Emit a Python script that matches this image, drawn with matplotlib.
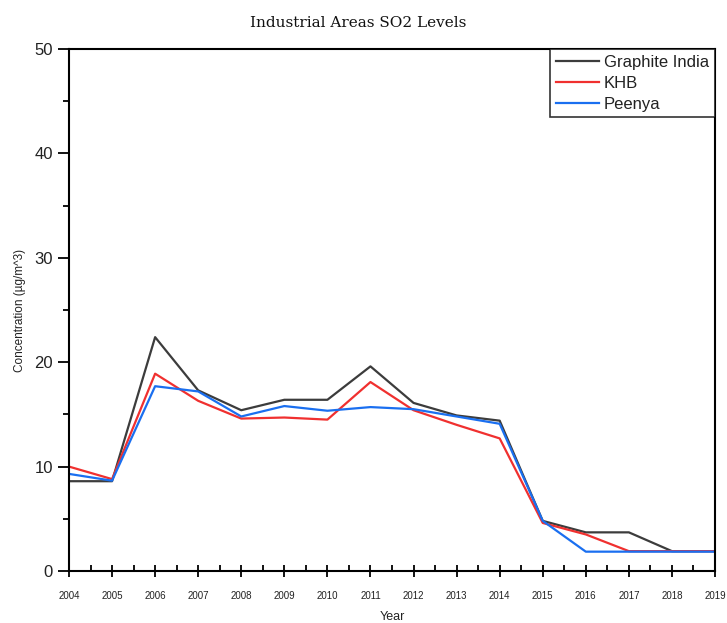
import matplotlib
matplotlib.use("Agg")
import matplotlib.pyplot as plt
from matplotlib.ticker import MultipleLocator

years = list(range(2004, 2020))
graphite_india = [8.6, 8.6, 22.4, 17.3, 15.4, 16.4, 16.4, 19.6, 16.1, 14.9, 14.4, 4.8, 3.7, 3.7, 1.9, 1.9]
khb = [10.0, 8.8, 18.9, 16.3, 14.6, 14.7, 14.5, 18.1, 15.4, 14.0, 12.7, 4.6, 3.5, 1.9, 1.9, 1.9]
peenya = [9.3, 8.65, 17.7, 17.2, 14.8, 15.8, 15.35, 15.7, 15.5, 14.8, 14.1, 4.8, 1.85, 1.85, 1.85, 1.85]
series_names = ["Graphite India", "KHB", "Peenya"]
colors = ["#3c3c3c", "#f0302f", "#1a6ff0"]

plt.rcParams['font.family'] = ['Liberation Sans', 'DejaVu Sans']

fig = plt.figure(figsize=(7.27, 6.23), dpi=100)
ax = fig.add_axes([0.0949, 0.0835, 0.8886, 0.8378])

for vals, name, c in zip([graphite_india, khb, peenya], series_names, colors):
    ax.plot(years, vals, color=c, lw=1.6, label=name)

ax.set_xlim(2004, 2019)
ax.set_ylim(0, 50)
ax.set_xticks(years)
ax.set_xticklabels([str(y) for y in years], fontsize=7)
ax.xaxis.set_minor_locator(MultipleLocator(0.5))
ax.yaxis.set_major_locator(MultipleLocator(10))
ax.yaxis.set_minor_locator(MultipleLocator(5))
ax.tick_params(axis='y', labelsize=12, direction='out', length=8, width=1.3, labelcolor='#222222')
ax.tick_params(axis='y', which='minor', direction='out', length=4, width=1.3)
ax.tick_params(axis='x', direction='inout', length=9, width=1.3, pad=10, labelcolor='#222222')
ax.tick_params(axis='x', which='minor', direction='in', length=4, width=1.3)
for s in ax.spines.values():
    s.set_linewidth(1.5)

ax.set_xlabel("Year", fontsize=9, labelpad=7, color='#222222')
ax.set_ylabel("Concentration (µg/m^3)", fontsize=8.5, labelpad=6, color='#222222')
fig.text(0.493, 0.963, "Industrial Areas SO2 Levels", fontsize=11, family='DejaVu Serif',
         ha='center', va='center', color='#111111')

leg = ax.legend(loc='upper right', fontsize=12, frameon=True, fancybox=False,
                edgecolor='black', borderaxespad=0, handlelength=2.6,
                handletextpad=0.3, labelspacing=0.35, borderpad=0.35)
leg.get_frame().set_linewidth(1.2)
for t in leg.get_texts():
    t.set_color('#222222')

fig.savefig("out.png", dpi=100)
